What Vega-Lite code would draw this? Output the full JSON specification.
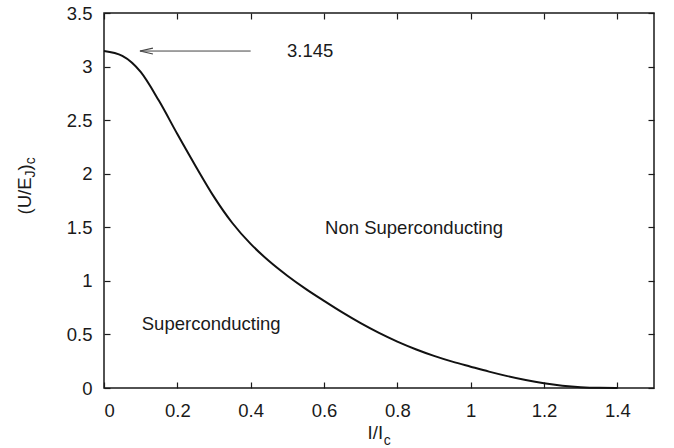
{
  "$schema": "https://vega.github.io/schema/vega-lite/v6.json",
  "width": 550,
  "height": 375,
  "autosize": {"type": "none"},
  "padding": {"left": 104, "top": 13, "right": 20, "bottom": 60},
  "background": "white",
  "config": {
    "font": "Liberation Sans",
    "view": {"stroke": "#1a1a1a", "strokeWidth": 1.5},
    "text": {"font": "Liberation Sans", "color": "#1a1a1a"},
    "axis": {
      "domain": false,
      "grid": false,
      "ticks": true,
      "tickColor": "#1a1a1a",
      "tickWidth": 1.2,
      "tickSize": -6,
      "labelFont": "Liberation Sans",
      "labelFontSize": 18.5,
      "labelColor": "#1a1a1a",
      "title": null
    }
  },
  "layer": [
    {
      "data": {
        "values": [
          {"ratio": 0.0, "energy": 3.145},
          {"ratio": 0.05, "energy": 3.1},
          {"ratio": 0.1, "energy": 2.95},
          {"ratio": 0.15, "energy": 2.68},
          {"ratio": 0.2, "energy": 2.37},
          {"ratio": 0.25, "energy": 2.07},
          {"ratio": 0.3, "energy": 1.784},
          {"ratio": 0.35, "energy": 1.54},
          {"ratio": 0.4, "energy": 1.345},
          {"ratio": 0.45, "energy": 1.185},
          {"ratio": 0.5, "energy": 1.048},
          {"ratio": 0.55, "energy": 0.925},
          {"ratio": 0.6, "energy": 0.813},
          {"ratio": 0.65, "energy": 0.705},
          {"ratio": 0.7, "energy": 0.605},
          {"ratio": 0.75, "energy": 0.514},
          {"ratio": 0.8, "energy": 0.433},
          {"ratio": 0.85, "energy": 0.362},
          {"ratio": 0.9, "energy": 0.3},
          {"ratio": 0.95, "energy": 0.246},
          {"ratio": 1.0, "energy": 0.199},
          {"ratio": 1.05, "energy": 0.153},
          {"ratio": 1.1, "energy": 0.111},
          {"ratio": 1.15, "energy": 0.074},
          {"ratio": 1.2, "energy": 0.044},
          {"ratio": 1.25, "energy": 0.022},
          {"ratio": 1.3, "energy": 0.008},
          {"ratio": 1.35, "energy": 0.0015},
          {"ratio": 1.4, "energy": 0.0}
        ]
      },
      "mark": {"type": "line", "color": "#111111", "strokeWidth": 2, "interpolate": "monotone"},
      "encoding": {
        "x": {
          "field": "ratio",
          "type": "quantitative",
          "scale": {"domain": [0, 1.5], "nice": false, "zero": false},
          "axis": {
            "orient": "bottom",
            "values": [0, 0.2, 0.4, 0.6, 0.8, 1, 1.2, 1.4],
            "format": "~g",
            "labelPadding": 19
          }
        },
        "y": {
          "field": "energy",
          "type": "quantitative",
          "scale": {"domain": [0, 3.5], "nice": false, "zero": false},
          "axis": {
            "orient": "left",
            "values": [0, 0.5, 1, 1.5, 2, 2.5, 3, 3.5],
            "format": "~g",
            "labelPadding": 18
          }
        }
      }
    },
    {
      "data": {"values": [{"value": 3.145}]},
      "mark": {"type": "rule", "color": "#444444", "strokeWidth": 1},
      "encoding": {
        "x": {
          "datum": 0.098,
          "type": "quantitative",
          "axis": {"orient": "top", "values": [0, 0.2, 0.4, 0.6, 0.8, 1, 1.2, 1.4], "labels": false}
        },
        "x2": {"datum": 0.4},
        "y": {
          "field": "value",
          "type": "quantitative",
          "axis": {"orient": "right", "values": [0, 0.5, 1, 1.5, 2, 2.5, 3, 3.5], "labels": false}
        }
      }
    },
    {
      "data": {"values": [{"value": 3.145}]},
      "mark": {
        "type": "point",
        "shape": "M0,0L2,-0.46M0,0L2,0.46",
        "size": 169,
        "filled": false,
        "stroke": "#444444",
        "strokeWidth": 1.2,
        "opacity": 1
      },
      "encoding": {
        "x": {"datum": 0.098, "type": "quantitative", "axis": null},
        "y": {"field": "value", "type": "quantitative", "axis": null}
      }
    },
    {
      "data": {"values": [{"value": 3.145}]},
      "mark": {"type": "text", "align": "left", "baseline": "middle", "fontSize": 18.5},
      "encoding": {
        "text": {"field": "value", "type": "quantitative", "format": ".3f"},
        "x": {"datum": 0.499, "type": "quantitative", "axis": null},
        "y": {"field": "value", "type": "quantitative", "axis": null}
      }
    },
    {
      "data": {"values": [{"label": "Non Superconducting"}]},
      "mark": {"type": "text", "align": "left", "baseline": "middle", "fontSize": 18.5},
      "encoding": {
        "text": {"field": "label"},
        "x": {"datum": 0.603, "type": "quantitative", "axis": null},
        "y": {"datum": 1.49, "type": "quantitative", "axis": null}
      }
    },
    {
      "data": {"values": [{"label": "Superconducting"}]},
      "mark": {"type": "text", "align": "left", "baseline": "middle", "fontSize": 18.5},
      "encoding": {
        "text": {"field": "label"},
        "x": {"datum": 0.103, "type": "quantitative", "axis": null},
        "y": {"datum": 0.6, "type": "quantitative", "axis": null}
      }
    },
    {
      "data": {"values": [{"label": "I/I"}]},
      "mark": {"type": "text", "align": "right", "baseline": "alphabetic", "fontSize": 18.5},
      "encoding": {
        "text": {"field": "label"},
        "x": {"datum": 0.761, "type": "quantitative", "axis": null},
        "y": {"datum": -0.476, "type": "quantitative", "axis": null}
      }
    },
    {
      "data": {"values": [{"label": "c"}]},
      "mark": {"type": "text", "align": "left", "baseline": "alphabetic", "fontSize": 14},
      "encoding": {
        "text": {"field": "label"},
        "x": {"datum": 0.763, "type": "quantitative", "axis": null},
        "y": {"datum": -0.535, "type": "quantitative", "axis": null}
      }
    },
    {
      "data": {"values": [{"label": "(U/E"}]},
      "mark": {"type": "text", "align": "left", "baseline": "alphabetic", "angle": 270, "fontSize": 18.5},
      "encoding": {
        "text": {"field": "label"},
        "x": {"datum": -0.198, "type": "quantitative", "axis": null},
        "y": {"datum": 1.62, "type": "quantitative", "axis": null}
      }
    },
    {
      "data": {"values": [{"label": "J"}]},
      "mark": {"type": "text", "align": "left", "baseline": "alphabetic", "angle": 270, "fontSize": 14},
      "encoding": {
        "text": {"field": "label"},
        "x": {"datum": -0.187, "type": "quantitative", "axis": null},
        "y": {"datum": 1.965, "type": "quantitative", "axis": null}
      }
    },
    {
      "data": {"values": [{"label": ")"}]},
      "mark": {"type": "text", "align": "left", "baseline": "alphabetic", "angle": 270, "fontSize": 18.5},
      "encoding": {
        "text": {"field": "label"},
        "x": {"datum": -0.198, "type": "quantitative", "axis": null},
        "y": {"datum": 2.03, "type": "quantitative", "axis": null}
      }
    },
    {
      "data": {"values": [{"label": "c"}]},
      "mark": {"type": "text", "align": "left", "baseline": "alphabetic", "angle": 270, "fontSize": 14},
      "encoding": {
        "text": {"field": "label"},
        "x": {"datum": -0.187, "type": "quantitative", "axis": null},
        "y": {"datum": 2.088, "type": "quantitative", "axis": null}
      }
    }
  ],
  "resolve": {"axis": {"x": "independent", "y": "independent"}}
}
